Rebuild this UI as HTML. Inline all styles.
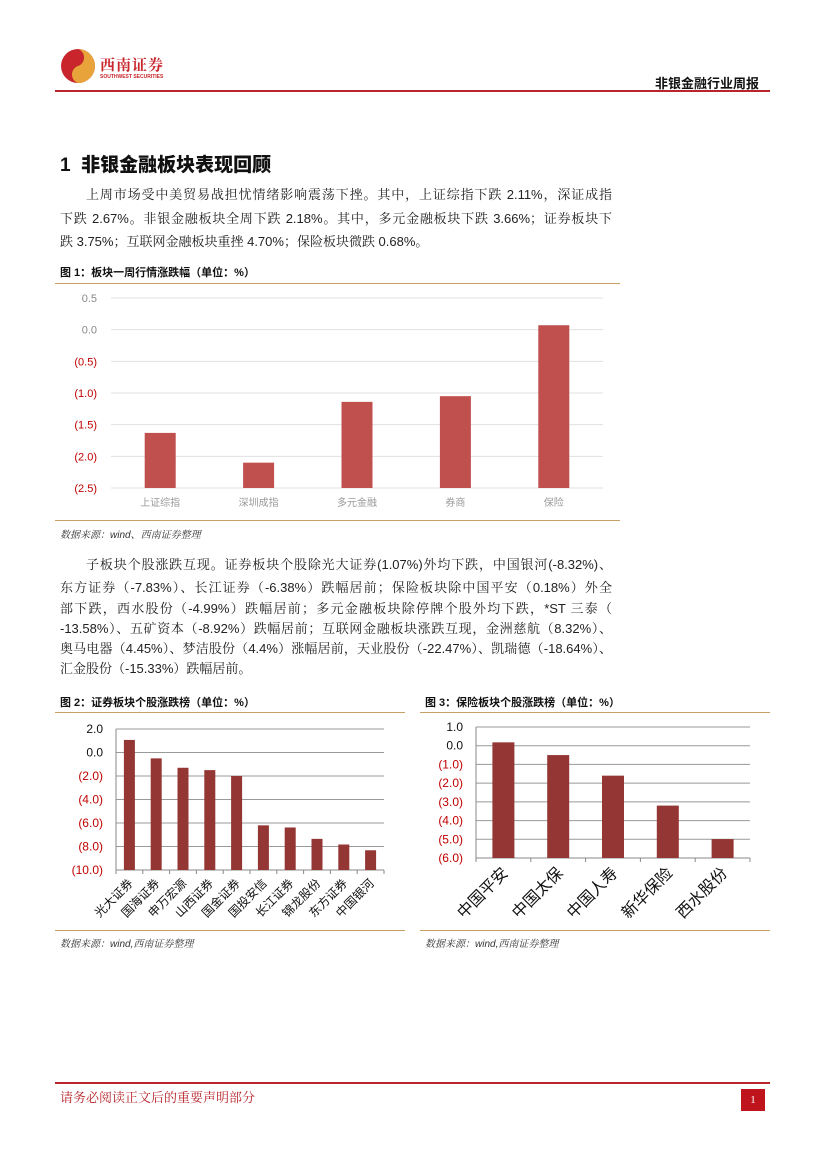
<!DOCTYPE html>
<html><head><meta charset="utf-8">
<style>
body{margin:0;background:#fff}
#page{position:relative;width:827px;height:1169px;overflow:hidden;background:#fff;font-family:"Liberation Sans","Noto Serif CJK SC",serif;color:#222}
.abs{position:absolute}
.line{position:absolute;font-size:13px;line-height:16px;white-space:nowrap;text-align:justify;text-align-last:justify}
.ftitle{position:absolute;font-family:"Liberation Sans","Noto Sans CJK SC",sans-serif;font-weight:bold;font-size:11px;color:#111}
.rule{position:absolute;height:1px;background:#c9a063}
.src{position:absolute;font-size:10px;font-style:italic;color:#333}
svg text{font-family:"Liberation Sans","Noto Sans CJK SC",sans-serif}
</style></head><body>
<div id="page">
  <svg class="abs" style="left:60px;top:48px" width="40" height="40">
    <circle cx="18" cy="18" r="17" fill="#c8262c"/>
    <path d="M18 1 A17 17 0 0 1 18 35 A9 9 0 0 1 18 18 A9 9 0 0 0 18 1Z" fill="#e8a33a"/>
  </svg>
  <div class="abs" style="left:100px;top:54px;font-family:'Noto Serif CJK SC',serif;font-weight:bold;font-size:15px;color:#c8262c;letter-spacing:1px">西南证券</div>
  <div class="abs" style="left:100px;top:74px;font-size:5px;font-weight:bold;color:#c8262c">SOUTHWEST SECURITIES</div>
  <div class="abs" style="left:655px;top:73px;font-family:'Noto Sans CJK SC',sans-serif;font-weight:bold;font-size:13px;color:#111">非银金融行业周报</div>
  <div class="abs" style="left:55px;top:90px;width:715px;height:2px;background:#b8252b"></div>

  <div class="abs" style="left:60px;top:150px;font-family:'Liberation Sans','Noto Sans CJK SC',sans-serif;font-weight:900;font-size:19px;color:#111">1&nbsp; 非银金融板块表现回顾</div>
  <div class="line" style="left:86px;top:187px;width:526px">上周市场受中美贸易战担忧情绪影响震荡下挫。其中，上证综指下跌 2.11%，深证成指</div>
  <div class="line" style="left:60px;top:211px;width:552px">下跌 2.67%。非银金融板块全周下跌 2.18%。其中，多元金融板块下跌 3.66%；证券板块下</div>
  <div class="line" style="left:60px;top:234px;text-align-last:left">跌 3.75%；互联网金融板块重挫 4.70%；保险板块微跌 0.68%。</div>

  <div class="ftitle" style="left:60px;top:264px">图 1：板块一周行情涨跌幅（单位：%）</div>
  <div class="rule" style="left:55px;top:283px;width:565px"></div>
  <svg class="abs" style="left:0;top:284px" width="827" height="236" id="c1"></svg>
  <div class="rule" style="left:55px;top:520px;width:565px"></div>
  <div class="src" style="left:60px;top:526px">数据来源：wind、西南证券整理</div>

  <div class="line" style="left:86px;top:557px;width:526px">子板块个股涨跌互现。证券板块个股除光大证券(1.07%)外均下跌，中国银河(-8.32%)、</div>
  <div class="line" style="left:60px;top:580px;width:552px">东方证券（-7.83%）、长江证券（-6.38%）跌幅居前；保险板块除中国平安（0.18%）外全</div>
  <div class="line" style="left:60px;top:601px;width:552px">部下跌，西水股份（-4.99%）跌幅居前；多元金融板块除停牌个股外均下跌，*ST 三泰（</div>
  <div class="line" style="left:60px;top:621px;width:552px">-13.58%）、五矿资本（-8.92%）跌幅居前；互联网金融板块涨跌互现，金洲慈航（8.32%）、</div>
  <div class="line" style="left:60px;top:641px;width:552px">奥马电器（4.45%）、梦洁股份（4.4%）涨幅居前，天业股份（-22.47%）、凯瑞德（-18.64%）、</div>
  <div class="line" style="left:60px;top:661px;text-align-last:left">汇金股份（-15.33%）跌幅居前。</div>

  <div class="ftitle" style="left:60px;top:694px">图 2：证券板块个股涨跌榜（单位：%）</div>
  <div class="rule" style="left:55px;top:712px;width:350px"></div>
  <svg class="abs" style="left:0;top:713px" width="410" height="217" id="c2"></svg>
  <div class="rule" style="left:55px;top:930px;width:350px"></div>
  <div class="src" style="left:60px;top:935px">数据来源：wind,西南证券整理</div>

  <div class="ftitle" style="left:425px;top:694px">图 3：保险板块个股涨跌榜（单位：%）</div>
  <div class="rule" style="left:420px;top:712px;width:350px"></div>
  <svg class="abs" style="left:0;top:713px" width="827" height="217" id="c3"></svg>
  <div class="rule" style="left:420px;top:930px;width:350px"></div>
  <div class="src" style="left:425px;top:935px">数据来源：wind,西南证券整理</div>

  <div class="abs" style="left:55px;top:1082px;width:715px;height:2px;background:#b8252b"></div>
  <div class="abs" style="left:60px;top:1087px;font-family:'Noto Serif CJK SC',serif;font-size:13px;color:#b8252b">请务必阅读正文后的重要声明部分</div>
  <div class="abs" style="left:741px;top:1089px;width:24px;height:22px;background:#c0141c;color:#fff;font-size:11px;text-align:center;line-height:22px;font-family:'Liberation Serif',serif">1</div>
</div>
<script>
const NS='http://www.w3.org/2000/svg';
const c1Cats=['上证综指','深圳成指','多元金融','券商','保险'];
const c1Vals=[-1.63,-2.1,-1.14,-1.05,0.07];
const c1Ticks=[0.5,0,-0.5,-1,-1.5,-2,-2.5];
const c1TickLabels=['0.5','0.0','(0.5)','(1.0)','(1.5)','(2.0)','(2.5)'];
const c2Cats=['光大证券','国海证券','申万宏源','山西证券','国金证券','国投安信','长江证券','锦龙股份','东方证券','中国银河'];
const c2Vals=[1.07,-0.5,-1.3,-1.5,-2.0,-6.2,-6.38,-7.35,-7.83,-8.32];
const c2Ticks=[2,0,-2,-4,-6,-8,-10];
const c2TickLabels=['2.0','0.0','(2.0)','(4.0)','(6.0)','(8.0)','(10.0)'];
const c3Cats=['中国平安','中国太保','中国人寿','新华保险','西水股份'];
const c3Vals=[0.18,-0.5,-1.6,-3.2,-4.99];
const c3Ticks=[1,0,-1,-2,-3,-4,-5,-6];
const c3TickLabels=['1.0','0.0','(1.0)','(2.0)','(3.0)','(4.0)','(5.0)','(6.0)'];

function mk(svg,tag,attrs,txt){const e=document.createElementNS(NS,tag);for(const k in attrs)e.setAttribute(k,attrs[k]);if(txt!==undefined)e.textContent=txt;svg.appendChild(e);return e;}

function chart(o){
  const svg=document.getElementById(o.id);
  const ymax=o.ticks[0],ymin=o.ticks[o.ticks.length-1];
  const y=v=>o.top+(ymax-v)/(ymax-ymin)*(o.bottom-o.top);
  const bw=(o.right-o.left)/o.cats.length;
  const x=i=>o.left+bw*(i+0.5);
  o.ticks.forEach((t,i)=>{
    const g=mk(svg,'line',{x1:o.left,x2:o.right,y1:y(t),y2:y(t),stroke:o.grid,'stroke-width':1});
    
    
    const l=mk(svg,'text',{x:o.left-o.labGap,y:y(t)+4,'text-anchor':'end','font-size':o.fs,fill:t<0?'#c00000':o.posColor},o.tickLabels[i]);
    
    
  });
  if(o.axes){
    const a=mk(svg,'line',{x1:o.left,x2:o.left,y1:o.top,y2:o.bottom,stroke:'#888'});
    
    
    const b=mk(svg,'line',{x1:o.left,x2:o.right,y1:o.bottom,y2:o.bottom,stroke:'#888'});
    
    
    for(let i=0;i<=o.cats.length;i++){const tk=mk(svg,'line',{x1:o.left+bw*i,x2:o.left+bw*i,y1:o.bottom,y2:o.bottom+4,stroke:'#888'});
      
      }
  }
  o.vals.forEach((v,i)=>{
    const r=mk(svg,'rect',{x:x(i)-o.barW/2,y:y(v),width:o.barW,height:y(ymin)-y(v),fill:o.color});
    
    
    let t;
    if(o.rotate){const ax=x(i)+o.cfs*0.35, ay=o.bottom+8+o.cfs*0.5;
      t=mk(svg,'text',{x:ax,y:ay,'text-anchor':'end','font-size':o.cfs,fill:'#111',transform:`rotate(-45 ${ax} ${ay})`},o.cats[i]);}
    else{t=mk(svg,'text',{x:x(i),y:o.bottom+18,'text-anchor':'middle','font-size':o.cfs,fill:'#999','font-family':'Noto Serif CJK SC,serif'},o.cats[i]);}
    
    
  });
}
chart({id:'c1',cats:c1Cats,vals:c1Vals,ticks:c1Ticks,tickLabels:c1TickLabels,left:111,right:603,top:14,bottom:204,barW:31,color:'#c0504d',grid:'#e0e0e0',fs:11,cfs:10,labGap:14,posColor:'#888',axes:false,rotate:false});
chart({id:'c2',cats:c2Cats,vals:c2Vals,ticks:c2Ticks,tickLabels:c2TickLabels,left:116,right:384,top:16,bottom:157,barW:11,color:'#943634',grid:'#999',fs:12,cfs:12,labGap:13,posColor:'#111',axes:true,rotate:true});
chart({id:'c3',cats:c3Cats,vals:c3Vals,ticks:c3Ticks,tickLabels:c3TickLabels,left:476,right:750,top:14,bottom:145,barW:22,color:'#943634',grid:'#999',fs:12,cfs:16,labGap:13,posColor:'#111',axes:true,rotate:true});
</script>
</body></html>
